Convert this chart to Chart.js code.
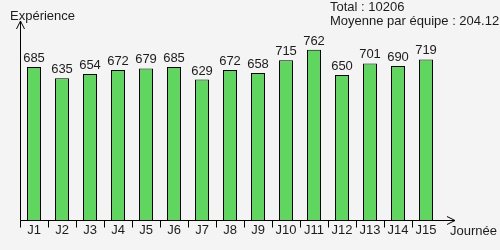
<!DOCTYPE html>
<html>
<head>
<meta charset="utf-8">
<script src="https://cdn.jsdelivr.net/npm/chart.js@4"></script>
<style>
  html, body { margin: 0; padding: 0; background: #f4f4f4; }
  #wrap { width: 500px; height: 250px; }
</style>
</head>
<body>
<div id="wrap"><canvas id="chart"></canvas></div>
<script>
const journees = ['J1', 'J2', 'J3', 'J4', 'J5', 'J6', 'J7', 'J8', 'J9', 'J10', 'J11', 'J12', 'J13', 'J14', 'J15'];
const experience = [685, 635, 654, 672, 679, 685, 629, 672, 658, 715, 762, 650, 701, 690, 719];
const yTitle = 'Expérience';
const xTitle = 'Journée';
const infoLines = ['Total : 10206', 'Moyenne par équipe : 204.12'];

const FONT = '13px "Liberation Sans", Arial, sans-serif';
const INK = '#1c1c1c';

// axes, arrows, ticks, labels drawn by hand
const decor = {
    id: 'decor',
    beforeDraw(chart) {
        const c = chart.ctx;
        c.save();
        c.fillStyle = '#f4f4f4';
        c.fillRect(0, 0, chart.width, chart.height);
        c.restore();
    },
    afterDatasetsDraw(chart) {
        const c = chart.ctx;
        const area = chart.chartArea;
        const x = chart.scales.x;
        const y = chart.scales.y;
        const x0 = area.left + 0.5;
        const y0 = Math.round(area.bottom) + 0.5;
        c.save();
        c.strokeStyle = '#000';
        c.lineWidth = 1;
        c.beginPath();
        // y axis + arrow
        c.moveTo(x0, y0);
        c.lineTo(x0, area.top - 9);
        c.moveTo(x0 - 4, area.top - 1);
        c.lineTo(x0, area.top - 9);
        c.lineTo(x0 + 4, area.top - 1);
        // x axis + arrow
        c.moveTo(x0, y0);
        c.lineTo(area.right + 15, y0);
        c.moveTo(area.right + 7, y0 - 4);
        c.lineTo(area.right + 15, y0);
        c.lineTo(area.right + 7, y0 + 4);
        // category ticks
        const step = x.getPixelForValue(1) - x.getPixelForValue(0);
        for (let i = 0; i < journees.length; i++) {
            const tx = Math.round(x.getPixelForValue(i) - step / 2) + 0.5;
            c.moveTo(tx, y0);
            c.lineTo(tx, y0 + 7);
        }
        c.stroke();

        c.font = FONT;
        c.fillStyle = INK;
        c.textAlign = 'center';
        c.textBaseline = 'middle';
        journees.forEach((lab, i) => {
            c.fillText(lab, x.getPixelForValue(i), y0 + 10);
        });
        c.textBaseline = 'alphabetic';
        experience.forEach((v, i) => {
            c.fillText(String(v), x.getPixelForValue(i), y.getPixelForValue(v) - 5);
        });

        c.textAlign = 'left';
        c.textBaseline = 'middle';
        c.fillText(yTitle, 10, 16);
        c.fillText(xTitle, area.right + 10, y0 + 11);
        c.fillText(infoLines[0], 330, 7);
        c.fillText(infoLines[1], 330, 21);
        c.restore();
    }
};

new Chart(document.getElementById('chart'), {
    type: 'bar',
    data: {
        labels: journees,
        datasets: [{
            data: experience,
            backgroundColor: '#5fd75f',
            borderColor: '#000',
            borderWidth: 1,
            barPercentage: 0.5,
            categoryPercentage: 1.0
        }]
    },
    options: {
        responsive: true,
        maintainAspectRatio: false,
        animation: false,
        layout: { padding: { left: 20, right: 60, top: 30, bottom: 30 } },
        scales: {
            x: { display: false, offset: true },
            y: { display: false, min: 0, max: 851 }
        },
        plugins: {
            legend: { display: false },
            tooltip: { enabled: false }
        }
    },
    plugins: [decor]
});
</script>
</body>
</html>
